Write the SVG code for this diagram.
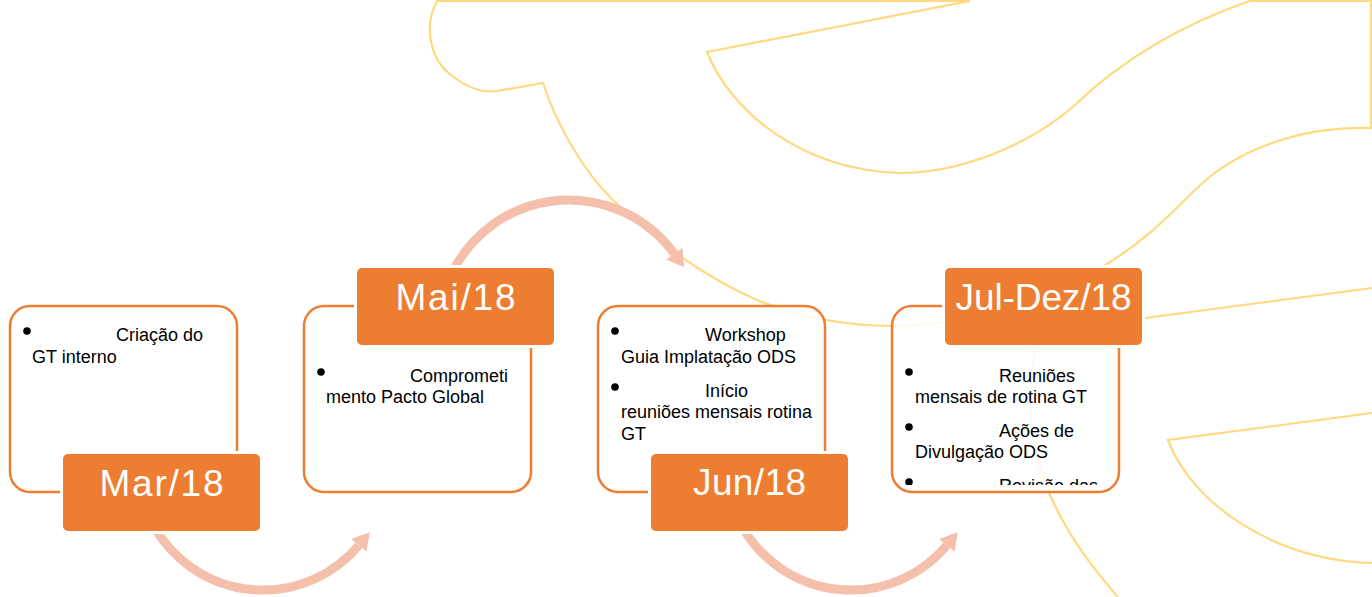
<svg xmlns="http://www.w3.org/2000/svg" width="1372" height="597" viewBox="0 0 1372 597">
<style>
.bg{fill:none;stroke:#FFD97F;stroke-width:2.2;stroke-linejoin:miter}
.card{fill:#FFFFFF;fill-opacity:0.86;stroke:#ED7D31;stroke-width:2.5}
.date{fill:#ED7D31;stroke:#FFFFFF;stroke-width:6;paint-order:stroke}
.dt{font-family:"Liberation Sans",Arial,sans-serif;font-size:37px;fill:#FFFFFF;text-anchor:middle}
.tx{font-family:"Liberation Sans",Arial,sans-serif;font-size:18px;fill:#000000}
.bul{fill:#000000}
.arc{fill:none;stroke:#F5C0AB;stroke-width:9;stroke-linecap:butt}
</style>
<defs>
<marker id="ah" markerUnits="userSpaceOnUse" viewBox="0 0 17 20" refX="0" refY="10" markerWidth="17" markerHeight="20" orient="auto">
<path d="M0,0 L17,10 L0,20 Z" fill="#F5C0AB"/>
</marker>
<clipPath id="clipJul"><rect x="892" y="306" width="227" height="179"/></clipPath>
</defs>
<rect x="0" y="0" width="1372" height="597" fill="#FFFFFF"/>
<g id="background">
<path class="bg" d="M970,1 L437,1 C424,25 428,60 455,78 C468,88 482,93 497,91 L543,83 C556,123 582,170 613,200 C650,236 700,275 757,300 C800,318 850,326 893,326 C915,326 930,324 945,322 L1100,324 L1372,288"/>
<path class="bg" d="M970,1 L707,52 C730,110 800,170 900,173 C960,173 1030,145 1075,105 C1120,62 1180,25 1250,1 L1371,1 L1371,128 C1300,126 1235,150 1195,190 C1165,220 1140,245 1100,268 C1065,290 1040,318 1035,350 C1027,400 1030,450 1050,495 C1070,540 1095,570 1120,600"/>
<path class="bg" d="M1372,413 L1168,440 C1190,500 1270,560 1372,563"/>
</g>
<g id="connectors">
<path class="arc" marker-end="url(#ah)" d="M154.7,527.5 A125,125 0 0 0 358.8,545.3"/>
<path class="arc" marker-end="url(#ah)" d="M446.8,285.5 A130,130 0 0 1 674.2,253.6"/>
<path class="arc" marker-end="url(#ah)" d="M742.7,527.5 A125,125 0 0 0 946.8,545.3"/>
</g>
<g id="node-mar">
<rect class="card" x="10" y="306" width="227" height="186" rx="20"/>
<circle class="bul" cx="27" cy="331" r="3.8"/>
<text class="tx" x="116" y="341">Criação do</text>
<text class="tx" x="32" y="363">GT interno</text>
<rect class="date" x="63" y="454" width="197" height="77" rx="5"/>
<text class="dt" x="161.5" y="496" textLength="124">Mar/18</text>
</g>
<g id="node-mai">
<rect class="card" x="304" y="306" width="227" height="186" rx="20"/>
<circle class="bul" cx="321" cy="372" r="3.8"/>
<text class="tx" x="410" y="382">Comprometi</text>
<text class="tx" x="326" y="403">mento Pacto Global</text>
<rect class="date" x="357" y="268" width="197" height="77" rx="5"/>
<text class="dt" x="455.5" y="310" textLength="120">Mai/18</text>
</g>
<g id="node-jun">
<rect class="card" x="598" y="306" width="227" height="186" rx="20"/>
<circle class="bul" cx="615" cy="331" r="3.8"/>
<text class="tx" x="705" y="341">Workshop</text>
<text class="tx" x="621" y="363">Guia Implatação ODS</text>
<circle class="bul" cx="615" cy="387" r="3.8"/>
<text class="tx" x="705" y="397">Início</text>
<text class="tx" x="621" y="418">reuniões mensais rotina</text>
<text class="tx" x="621" y="440">GT</text>
<rect class="date" x="651" y="454" width="197" height="77" rx="5"/>
<text class="dt" x="749.5" y="495" textLength="113">Jun/18</text>
</g>
<g id="node-juldez">
<rect class="card" x="892" y="306" width="227" height="186" rx="20"/>
<g clip-path="url(#clipJul)">
<circle class="bul" cx="909" cy="372" r="3.8"/>
<text class="tx" x="999" y="382">Reuniões</text>
<text class="tx" x="915" y="403">mensais de rotina GT</text>
<circle class="bul" cx="909" cy="427" r="3.8"/>
<text class="tx" x="999" y="437">Ações de</text>
<text class="tx" x="915" y="458">Divulgação ODS</text>
<circle class="bul" cx="909" cy="482" r="3.8"/>
<text class="tx" x="999" y="492">Revisão das</text>
</g>
<rect class="date" x="945" y="268" width="197" height="77" rx="5"/>
<text class="dt" x="1043.5" y="310" textLength="176">Jul-Dez/18</text>
</g>
</svg>
